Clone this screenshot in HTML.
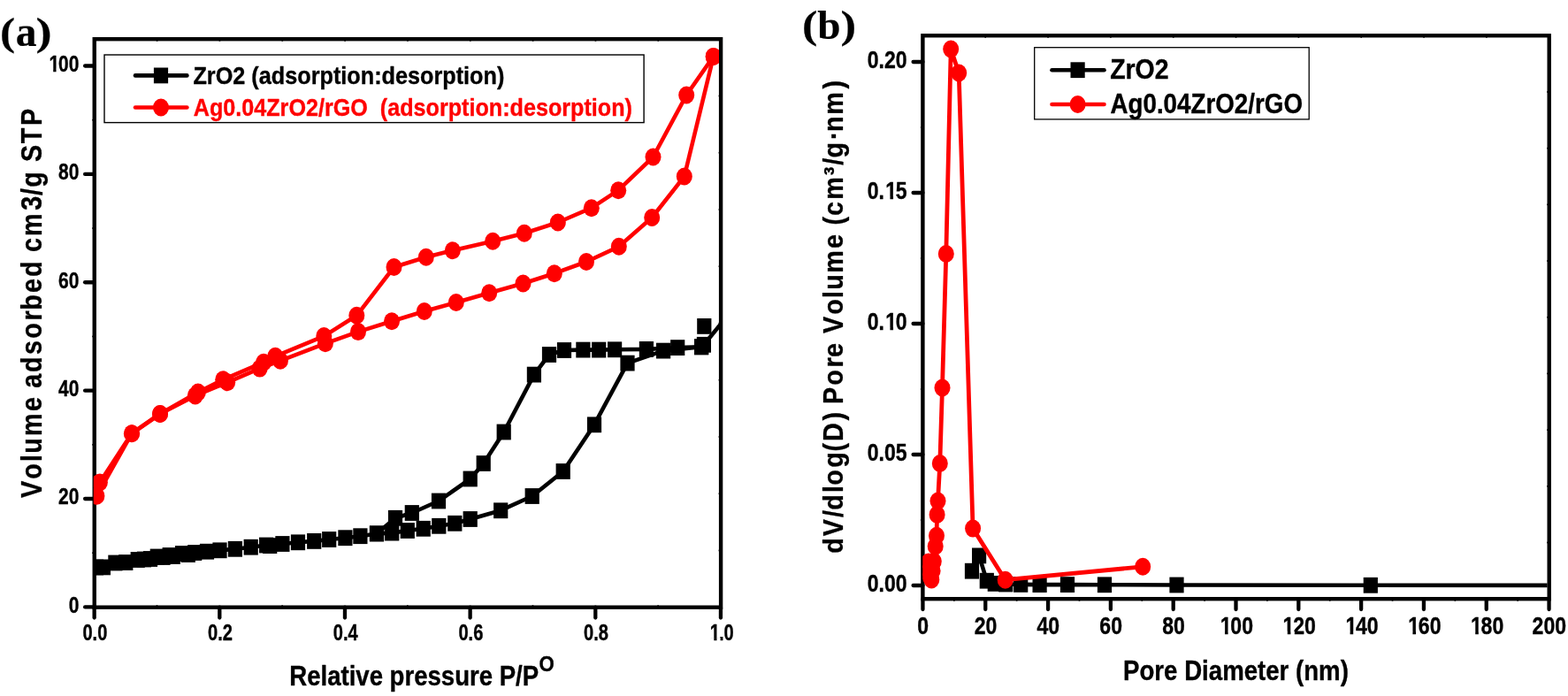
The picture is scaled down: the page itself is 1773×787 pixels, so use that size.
<!DOCTYPE html>
<html lang="en"><head><meta charset="utf-8"><title>N2 adsorption-desorption isotherms and pore size distribution</title>
<style>html,body{margin:0;padding:0;background:#fff;}body{width:1773px;height:787px;overflow:hidden;}svg{display:block;}</style>
</head><body>
<svg width="1773" height="787" viewBox="0 0 1773 787" role="img" aria-label="N2 adsorption-desorption isotherms (a) and pore size distribution (b)">
<rect x="0" y="0" width="1773" height="787" fill="#ffffff"/>
<g id="panel-a">
<rect x="106.75" y="44.2" width="708.35" height="642.5" fill="none" stroke="#000000" stroke-width="4.4" stroke-linejoin="miter"/>
<line x1="96.1" y1="686.40" x2="106.75" y2="686.40" stroke="#000000" stroke-width="4.3" stroke-linecap="round"/>
<text transform="translate(77.72 692.70) scale(0.2100 0.2520)" x="0.0" y="0" font-family="'Liberation Sans', sans-serif" font-weight="bold" font-size="100" fill="#000000" stroke="#000000" stroke-width="1.52" stroke-linejoin="round">0</text>
<line x1="96.1" y1="564.02" x2="106.75" y2="564.02" stroke="#000000" stroke-width="4.3" stroke-linecap="round"/>
<text transform="translate(66.04 570.32) scale(0.2100 0.2520)" x="0.0 55.6" y="0" font-family="'Liberation Sans', sans-serif" font-weight="bold" font-size="100" fill="#000000" stroke="#000000" stroke-width="1.52" stroke-linejoin="round">20</text>
<line x1="96.1" y1="441.64" x2="106.75" y2="441.64" stroke="#000000" stroke-width="4.3" stroke-linecap="round"/>
<text transform="translate(66.04 447.94) scale(0.2100 0.2520)" x="0.0 55.6" y="0" font-family="'Liberation Sans', sans-serif" font-weight="bold" font-size="100" fill="#000000" stroke="#000000" stroke-width="1.52" stroke-linejoin="round">40</text>
<line x1="96.1" y1="319.26" x2="106.75" y2="319.26" stroke="#000000" stroke-width="4.3" stroke-linecap="round"/>
<text transform="translate(66.04 325.56) scale(0.2100 0.2520)" x="0.0 55.6" y="0" font-family="'Liberation Sans', sans-serif" font-weight="bold" font-size="100" fill="#000000" stroke="#000000" stroke-width="1.52" stroke-linejoin="round">60</text>
<line x1="96.1" y1="196.88" x2="106.75" y2="196.88" stroke="#000000" stroke-width="4.3" stroke-linecap="round"/>
<text transform="translate(66.04 203.18) scale(0.2100 0.2520)" x="0.0 55.6" y="0" font-family="'Liberation Sans', sans-serif" font-weight="bold" font-size="100" fill="#000000" stroke="#000000" stroke-width="1.52" stroke-linejoin="round">80</text>
<line x1="96.1" y1="74.50" x2="106.75" y2="74.50" stroke="#000000" stroke-width="4.3" stroke-linecap="round"/>
<text transform="translate(54.36 80.80) scale(0.2100 0.2520)" x="5.5 55.6 111.2" y="0" font-family="'Liberation Sans', sans-serif" font-weight="bold" font-size="100" fill="#000000" stroke="#000000" stroke-width="1.52" stroke-linejoin="round">100</text>
<rect x="55.84" y="77.78" width="4.36" height="4.72" fill="#ffffff"/>
<rect x="63.52" y="77.78" width="4.09" height="4.72" fill="#ffffff"/>
<line x1="106.65" y1="686.7" x2="106.65" y2="698.6" stroke="#000000" stroke-width="4.3" stroke-linecap="round"/>
<text transform="translate(93.43 724.10) scale(0.2010 0.2520)" x="0.0 55.6 83.4" y="0" font-family="'Liberation Sans', sans-serif" font-weight="bold" font-size="100" fill="#000000" stroke="#000000" stroke-width="1.56" stroke-linejoin="round">0.0</text>
<line x1="248.31" y1="686.7" x2="248.31" y2="698.6" stroke="#000000" stroke-width="4.3" stroke-linecap="round"/>
<text transform="translate(235.09 724.10) scale(0.2010 0.2520)" x="0.0 55.6 83.4" y="0" font-family="'Liberation Sans', sans-serif" font-weight="bold" font-size="100" fill="#000000" stroke="#000000" stroke-width="1.56" stroke-linejoin="round">0.2</text>
<line x1="389.97" y1="686.7" x2="389.97" y2="698.6" stroke="#000000" stroke-width="4.3" stroke-linecap="round"/>
<text transform="translate(376.75 724.10) scale(0.2010 0.2520)" x="0.0 55.6 83.4" y="0" font-family="'Liberation Sans', sans-serif" font-weight="bold" font-size="100" fill="#000000" stroke="#000000" stroke-width="1.56" stroke-linejoin="round">0.4</text>
<line x1="531.63" y1="686.7" x2="531.63" y2="698.6" stroke="#000000" stroke-width="4.3" stroke-linecap="round"/>
<text transform="translate(518.41 724.10) scale(0.2010 0.2520)" x="0.0 55.6 83.4" y="0" font-family="'Liberation Sans', sans-serif" font-weight="bold" font-size="100" fill="#000000" stroke="#000000" stroke-width="1.56" stroke-linejoin="round">0.6</text>
<line x1="673.29" y1="686.7" x2="673.29" y2="698.6" stroke="#000000" stroke-width="4.3" stroke-linecap="round"/>
<text transform="translate(660.07 724.10) scale(0.2010 0.2520)" x="0.0 55.6 83.4" y="0" font-family="'Liberation Sans', sans-serif" font-weight="bold" font-size="100" fill="#000000" stroke="#000000" stroke-width="1.56" stroke-linejoin="round">0.8</text>
<line x1="814.95" y1="686.7" x2="814.95" y2="698.6" stroke="#000000" stroke-width="4.3" stroke-linecap="round"/>
<text transform="translate(801.73 724.10) scale(0.2010 0.2520)" x="5.5 55.6 83.4" y="0" font-family="'Liberation Sans', sans-serif" font-weight="bold" font-size="100" fill="#000000" stroke="#000000" stroke-width="1.56" stroke-linejoin="round">1.0</text>
<rect x="803.10" y="721.08" width="4.21" height="4.72" fill="#ffffff"/>
<rect x="810.50" y="721.08" width="3.95" height="4.72" fill="#ffffff"/>
<line x1="177.59" y1="44.2" x2="177.59" y2="46.70" stroke="#000000" stroke-width="1.6"/>
<line x1="815.1" y1="108.45" x2="812.60" y2="108.45" stroke="#000000" stroke-width="1.6"/>
<line x1="248.42" y1="44.2" x2="248.42" y2="46.70" stroke="#000000" stroke-width="1.6"/>
<line x1="815.1" y1="172.70" x2="812.60" y2="172.70" stroke="#000000" stroke-width="1.6"/>
<line x1="319.25" y1="44.2" x2="319.25" y2="46.70" stroke="#000000" stroke-width="1.6"/>
<line x1="815.1" y1="236.95" x2="812.60" y2="236.95" stroke="#000000" stroke-width="1.6"/>
<line x1="390.09" y1="44.2" x2="390.09" y2="46.70" stroke="#000000" stroke-width="1.6"/>
<line x1="815.1" y1="301.20" x2="812.60" y2="301.20" stroke="#000000" stroke-width="1.6"/>
<line x1="460.93" y1="44.2" x2="460.93" y2="46.70" stroke="#000000" stroke-width="1.6"/>
<line x1="815.1" y1="365.45" x2="812.60" y2="365.45" stroke="#000000" stroke-width="1.6"/>
<line x1="531.76" y1="44.2" x2="531.76" y2="46.70" stroke="#000000" stroke-width="1.6"/>
<line x1="815.1" y1="429.70" x2="812.60" y2="429.70" stroke="#000000" stroke-width="1.6"/>
<line x1="602.60" y1="44.2" x2="602.60" y2="46.70" stroke="#000000" stroke-width="1.6"/>
<line x1="815.1" y1="493.95" x2="812.60" y2="493.95" stroke="#000000" stroke-width="1.6"/>
<line x1="673.43" y1="44.2" x2="673.43" y2="46.70" stroke="#000000" stroke-width="1.6"/>
<line x1="815.1" y1="558.20" x2="812.60" y2="558.20" stroke="#000000" stroke-width="1.6"/>
<line x1="744.27" y1="44.2" x2="744.27" y2="46.70" stroke="#000000" stroke-width="1.6"/>
<line x1="815.1" y1="622.45" x2="812.60" y2="622.45" stroke="#000000" stroke-width="1.6"/>
<line x1="177.48" y1="686.7" x2="177.48" y2="684.20" stroke="#000000" stroke-width="1.6"/>
<line x1="106.75" y1="625.21" x2="104.25" y2="625.21" stroke="#000000" stroke-width="1.6"/>
<line x1="319.14" y1="686.7" x2="319.14" y2="684.20" stroke="#000000" stroke-width="1.6"/>
<line x1="106.75" y1="502.83" x2="104.25" y2="502.83" stroke="#000000" stroke-width="1.6"/>
<line x1="460.80" y1="686.7" x2="460.80" y2="684.20" stroke="#000000" stroke-width="1.6"/>
<line x1="106.75" y1="380.45" x2="104.25" y2="380.45" stroke="#000000" stroke-width="1.6"/>
<line x1="602.46" y1="686.7" x2="602.46" y2="684.20" stroke="#000000" stroke-width="1.6"/>
<line x1="106.75" y1="258.07" x2="104.25" y2="258.07" stroke="#000000" stroke-width="1.6"/>
<line x1="744.12" y1="686.7" x2="744.12" y2="684.20" stroke="#000000" stroke-width="1.6"/>
<line x1="106.75" y1="135.69" x2="104.25" y2="135.69" stroke="#000000" stroke-width="1.6"/>
<clipPath id="clipA"><rect x="105.8" y="44.2" width="707.2" height="642.5"/></clipPath>
<g clip-path="url(#clipA)">
<polyline points="109.0,641.5 116.9,641.4 130.4,636.5 142.3,636.0 155.7,633.0 163.0,632.5 170.0,632.0 177.8,629.5 184.5,630.0 191.7,628.0 195.8,629.0 206.1,626.0 212.8,627.0 220.2,625.0 234.0,623.7 248.5,622.3 265.9,620.8 283.7,618.7 301.1,616.5 305.2,617.1 319.4,615.0 337.0,613.3 355.2,611.9 372.2,610.0 390.4,608.2 407.4,606.2 426.0,603.4 443.2,602.6 460.8,600.0 478.7,597.8 496.3,594.8 514.3,591.8 531.8,587.0 566.2,577.2 601.8,561.0 636.8,533.0 672.0,480.2 709.5,410.6 750.1,396.6 793.1,392.3 795.9,389.8 830.0,347.9" fill="none" stroke="#000000" stroke-width="4.6" stroke-linejoin="round" stroke-linecap="round"/>
<polyline points="793.1,392.3 766.2,393.1 730.9,394.9 695.1,395.3 677.2,395.6 659.4,395.6 638.0,396.0 621.0,401.0 603.9,423.6 569.8,488.5 546.8,524.0 531.8,541.5 496.0,566.5 465.8,580.0 447.0,585.8 426.0,603.4" fill="none" stroke="#000000" stroke-width="4.6" stroke-linejoin="round" stroke-linecap="round"/>
<rect x="100.9" y="632.6" width="16.2" height="17.8" fill="#000000"/>
<rect x="108.8" y="632.5" width="16.2" height="17.8" fill="#000000"/>
<rect x="122.3" y="627.6" width="16.2" height="17.8" fill="#000000"/>
<rect x="134.2" y="627.1" width="16.2" height="17.8" fill="#000000"/>
<rect x="147.6" y="624.1" width="16.2" height="17.8" fill="#000000"/>
<rect x="154.9" y="623.6" width="16.2" height="17.8" fill="#000000"/>
<rect x="161.9" y="623.1" width="16.2" height="17.8" fill="#000000"/>
<rect x="169.7" y="620.6" width="16.2" height="17.8" fill="#000000"/>
<rect x="176.4" y="621.1" width="16.2" height="17.8" fill="#000000"/>
<rect x="183.6" y="619.1" width="16.2" height="17.8" fill="#000000"/>
<rect x="187.7" y="620.1" width="16.2" height="17.8" fill="#000000"/>
<rect x="198.0" y="617.1" width="16.2" height="17.8" fill="#000000"/>
<rect x="204.7" y="618.1" width="16.2" height="17.8" fill="#000000"/>
<rect x="212.1" y="616.1" width="16.2" height="17.8" fill="#000000"/>
<rect x="225.9" y="614.8" width="16.2" height="17.8" fill="#000000"/>
<rect x="240.4" y="613.4" width="16.2" height="17.8" fill="#000000"/>
<rect x="257.8" y="611.9" width="16.2" height="17.8" fill="#000000"/>
<rect x="275.6" y="609.8" width="16.2" height="17.8" fill="#000000"/>
<rect x="293.0" y="607.6" width="16.2" height="17.8" fill="#000000"/>
<rect x="297.1" y="608.2" width="16.2" height="17.8" fill="#000000"/>
<rect x="311.3" y="606.1" width="16.2" height="17.8" fill="#000000"/>
<rect x="328.9" y="604.4" width="16.2" height="17.8" fill="#000000"/>
<rect x="347.1" y="603.0" width="16.2" height="17.8" fill="#000000"/>
<rect x="364.1" y="601.1" width="16.2" height="17.8" fill="#000000"/>
<rect x="382.3" y="599.3" width="16.2" height="17.8" fill="#000000"/>
<rect x="399.3" y="597.3" width="16.2" height="17.8" fill="#000000"/>
<rect x="417.9" y="594.5" width="16.2" height="17.8" fill="#000000"/>
<rect x="435.1" y="593.7" width="16.2" height="17.8" fill="#000000"/>
<rect x="452.7" y="591.1" width="16.2" height="17.8" fill="#000000"/>
<rect x="470.6" y="588.9" width="16.2" height="17.8" fill="#000000"/>
<rect x="488.2" y="585.9" width="16.2" height="17.8" fill="#000000"/>
<rect x="506.2" y="582.9" width="16.2" height="17.8" fill="#000000"/>
<rect x="523.6" y="578.1" width="16.2" height="17.8" fill="#000000"/>
<rect x="558.1" y="568.4" width="16.2" height="17.8" fill="#000000"/>
<rect x="593.6" y="552.1" width="16.2" height="17.8" fill="#000000"/>
<rect x="628.6" y="524.1" width="16.2" height="17.8" fill="#000000"/>
<rect x="663.9" y="471.4" width="16.2" height="17.8" fill="#000000"/>
<rect x="701.4" y="401.7" width="16.2" height="17.8" fill="#000000"/>
<rect x="742.0" y="387.7" width="16.2" height="17.8" fill="#000000"/>
<rect x="785.0" y="383.4" width="16.2" height="17.8" fill="#000000"/>
<rect x="787.8" y="380.9" width="16.2" height="17.8" fill="#000000"/>
<rect x="785.0" y="383.4" width="16.2" height="17.8" fill="#000000"/>
<rect x="758.1" y="384.2" width="16.2" height="17.8" fill="#000000"/>
<rect x="722.8" y="386.0" width="16.2" height="17.8" fill="#000000"/>
<rect x="687.0" y="386.4" width="16.2" height="17.8" fill="#000000"/>
<rect x="669.1" y="386.7" width="16.2" height="17.8" fill="#000000"/>
<rect x="651.3" y="386.7" width="16.2" height="17.8" fill="#000000"/>
<rect x="629.9" y="387.1" width="16.2" height="17.8" fill="#000000"/>
<rect x="612.9" y="392.1" width="16.2" height="17.8" fill="#000000"/>
<rect x="595.8" y="414.7" width="16.2" height="17.8" fill="#000000"/>
<rect x="561.6" y="479.6" width="16.2" height="17.8" fill="#000000"/>
<rect x="538.6" y="515.1" width="16.2" height="17.8" fill="#000000"/>
<rect x="523.6" y="532.6" width="16.2" height="17.8" fill="#000000"/>
<rect x="487.9" y="557.6" width="16.2" height="17.8" fill="#000000"/>
<rect x="457.7" y="571.1" width="16.2" height="17.8" fill="#000000"/>
<rect x="438.9" y="576.9" width="16.2" height="17.8" fill="#000000"/>
<rect x="417.9" y="594.5" width="16.2" height="17.8" fill="#000000"/>
<rect x="788.2" y="360.0" width="16.2" height="17.8" fill="#000000"/>
<polyline points="109.4,560.7 149.0,490.2 181.0,468.0 220.8,447.4 257.2,432.3 293.7,416.6 317.0,407.8 367.9,388.3 405.0,375.1 443.0,363.2 479.8,352.0 515.8,342.0 553.2,331.2 591.5,320.5 626.8,309.2 663.0,296.0 699.8,278.8 737.2,246.0 773.8,199.5 806.7,63.9" fill="none" stroke="#ff0000" stroke-width="4.6" stroke-linejoin="round" stroke-linecap="round"/>
<polyline points="806.7,63.9 776.2,107.5 738.5,177.5 699.2,215.2 668.8,235.2 630.8,251.5 592.8,263.8 557.2,272.8 511.8,283.2 481.8,290.8 445.5,302.0 403.3,356.8 366.3,380.1 311.3,402.8 298.1,409.7 252.2,429.2 223.9,443.6 181.0,468.0 149.0,490.2 112.9,545.4" fill="none" stroke="#ff0000" stroke-width="4.6" stroke-linejoin="round" stroke-linecap="round"/>
<ellipse cx="109.4" cy="560.7" rx="9.0" ry="10.0" fill="#ff0000"/>
<ellipse cx="149.0" cy="490.2" rx="9.0" ry="10.0" fill="#ff0000"/>
<ellipse cx="181.0" cy="468.0" rx="9.0" ry="10.0" fill="#ff0000"/>
<ellipse cx="220.8" cy="447.4" rx="9.0" ry="10.0" fill="#ff0000"/>
<ellipse cx="257.2" cy="432.3" rx="9.0" ry="10.0" fill="#ff0000"/>
<ellipse cx="293.7" cy="416.6" rx="9.0" ry="10.0" fill="#ff0000"/>
<ellipse cx="317.0" cy="407.8" rx="9.0" ry="10.0" fill="#ff0000"/>
<ellipse cx="367.9" cy="388.3" rx="9.0" ry="10.0" fill="#ff0000"/>
<ellipse cx="405.0" cy="375.1" rx="9.0" ry="10.0" fill="#ff0000"/>
<ellipse cx="443.0" cy="363.2" rx="9.0" ry="10.0" fill="#ff0000"/>
<ellipse cx="479.8" cy="352.0" rx="9.0" ry="10.0" fill="#ff0000"/>
<ellipse cx="515.8" cy="342.0" rx="9.0" ry="10.0" fill="#ff0000"/>
<ellipse cx="553.2" cy="331.2" rx="9.0" ry="10.0" fill="#ff0000"/>
<ellipse cx="591.5" cy="320.5" rx="9.0" ry="10.0" fill="#ff0000"/>
<ellipse cx="626.8" cy="309.2" rx="9.0" ry="10.0" fill="#ff0000"/>
<ellipse cx="663.0" cy="296.0" rx="9.0" ry="10.0" fill="#ff0000"/>
<ellipse cx="699.8" cy="278.8" rx="9.0" ry="10.0" fill="#ff0000"/>
<ellipse cx="737.2" cy="246.0" rx="9.0" ry="10.0" fill="#ff0000"/>
<ellipse cx="773.8" cy="199.5" rx="9.0" ry="10.0" fill="#ff0000"/>
<ellipse cx="806.7" cy="63.9" rx="9.0" ry="10.0" fill="#ff0000"/>
<ellipse cx="806.7" cy="63.9" rx="9.0" ry="10.0" fill="#ff0000"/>
<ellipse cx="776.2" cy="107.5" rx="9.0" ry="10.0" fill="#ff0000"/>
<ellipse cx="738.5" cy="177.5" rx="9.0" ry="10.0" fill="#ff0000"/>
<ellipse cx="699.2" cy="215.2" rx="9.0" ry="10.0" fill="#ff0000"/>
<ellipse cx="668.8" cy="235.2" rx="9.0" ry="10.0" fill="#ff0000"/>
<ellipse cx="630.8" cy="251.5" rx="9.0" ry="10.0" fill="#ff0000"/>
<ellipse cx="592.8" cy="263.8" rx="9.0" ry="10.0" fill="#ff0000"/>
<ellipse cx="557.2" cy="272.8" rx="9.0" ry="10.0" fill="#ff0000"/>
<ellipse cx="511.8" cy="283.2" rx="9.0" ry="10.0" fill="#ff0000"/>
<ellipse cx="481.8" cy="290.8" rx="9.0" ry="10.0" fill="#ff0000"/>
<ellipse cx="445.5" cy="302.0" rx="9.0" ry="10.0" fill="#ff0000"/>
<ellipse cx="403.3" cy="356.8" rx="9.0" ry="10.0" fill="#ff0000"/>
<ellipse cx="366.3" cy="380.1" rx="9.0" ry="10.0" fill="#ff0000"/>
<ellipse cx="311.3" cy="402.8" rx="9.0" ry="10.0" fill="#ff0000"/>
<ellipse cx="298.1" cy="409.7" rx="9.0" ry="10.0" fill="#ff0000"/>
<ellipse cx="252.2" cy="429.2" rx="9.0" ry="10.0" fill="#ff0000"/>
<ellipse cx="223.9" cy="443.6" rx="9.0" ry="10.0" fill="#ff0000"/>
<ellipse cx="181.0" cy="468.0" rx="9.0" ry="10.0" fill="#ff0000"/>
<ellipse cx="149.0" cy="490.2" rx="9.0" ry="10.0" fill="#ff0000"/>
<ellipse cx="112.9" cy="545.4" rx="9.0" ry="10.0" fill="#ff0000"/>
</g>
<rect x="118" y="62" width="610.1" height="76.6" fill="#ffffff" stroke="#000000" stroke-width="1.4"/>
<line x1="153" y1="85.4" x2="211.4" y2="85.4" stroke="#000000" stroke-width="4.6" stroke-linecap="round"/>
<rect x="173.9" y="76.5" width="16.2" height="17.8" fill="#000000"/>
<line x1="153" y1="121.5" x2="211.4" y2="121.5" stroke="#ff0000" stroke-width="4.6" stroke-linecap="round"/>
<ellipse cx="182.0" cy="121.5" rx="9.0" ry="10.0" fill="#ff0000"/>
<text transform="translate(218.44 95.10) scale(0.2525 0.2730)" font-family="'Liberation Sans', sans-serif" font-weight="bold" font-size="100" fill="#000000" stroke="#000000" stroke-width="1.33" stroke-linejoin="round" text-anchor="start" letter-spacing="0.00" xml:space="preserve">ZrO2 (adsorption:desorption)</text>
<text transform="translate(218.75 130.90) scale(0.2516 0.2730)" font-family="'Liberation Sans', sans-serif" font-weight="bold" font-size="100" fill="#ff0000" stroke="#ff0000" stroke-width="1.34" stroke-linejoin="round" text-anchor="start" letter-spacing="0.00" xml:space="preserve">Ag0.04ZrO2/rGO  (adsorption:desorption)</text>
<text transform="translate(327.27 774.80) scale(0.2757 0.3210)" font-family="'Liberation Sans', sans-serif" font-weight="bold" font-size="100" fill="#000000" stroke="#000000" stroke-width="1.18" stroke-linejoin="round" xml:space="preserve">Relative pressure P/P<tspan x="1023.7" y="-48.3" font-size="74.8" textLength="62.6" lengthAdjust="spacingAndGlyphs">O</tspan></text>
<text transform="translate(46.80 563.50) rotate(-90) scale(0.2880 0.3330)" x="1.4 75.3 144.1 176.4 245.1 341.7 397.2 433.3 495.1 563.9 627.4 698.3 738.9 807.3 869.8 930.9 967.4 1029.9 1130.9 1189.2 1221.2 1282.3 1321.2 1393.4 1463.5" y="0" font-family="'Liberation Sans', sans-serif" font-weight="bold" font-size="100" fill="#000000" stroke="#000000" stroke-width="0.97" stroke-linejoin="round" xml:space="preserve">Volume adsorbed cm3/g STP</text>
<text transform="scale(0.45)" font-family="'Liberation Serif', serif" font-weight="bold" font-size="100" fill="#000000" stroke="#000000" stroke-width="0.44"><tspan x="0.10" y="113.56" font-size="100.78" textLength="38.04" lengthAdjust="spacingAndGlyphs">(</tspan><tspan x="39.28" y="114.67" font-size="109.04" textLength="52.78" lengthAdjust="spacingAndGlyphs">a</tspan><tspan x="90.03" y="113.56" font-size="100.78" textLength="40.33" lengthAdjust="spacingAndGlyphs">)</tspan></text>
</g>
<g id="panel-b">
<rect x="1043.4" y="40.25" width="708.3" height="636.95" fill="none" stroke="#000000" stroke-width="4.4" stroke-linejoin="miter"/>
<line x1="1032.6" y1="662.00" x2="1043.4" y2="662.00" stroke="#000000" stroke-width="4.3" stroke-linecap="round"/>
<text transform="translate(980.74 669.30) scale(0.2310 0.2775)" x="0.0 55.6 83.4 139.0" y="0" font-family="'Liberation Sans', sans-serif" font-weight="bold" font-size="100" fill="#000000" stroke="#000000" stroke-width="1.38" stroke-linejoin="round">0.00</text>
<line x1="1032.6" y1="514.00" x2="1043.4" y2="514.00" stroke="#000000" stroke-width="4.3" stroke-linecap="round"/>
<text transform="translate(980.74 521.30) scale(0.2310 0.2775)" x="0.0 55.6 83.4 139.0" y="0" font-family="'Liberation Sans', sans-serif" font-weight="bold" font-size="100" fill="#000000" stroke="#000000" stroke-width="1.38" stroke-linejoin="round">0.05</text>
<line x1="1032.6" y1="366.00" x2="1043.4" y2="366.00" stroke="#000000" stroke-width="4.3" stroke-linecap="round"/>
<text transform="translate(980.74 373.30) scale(0.2310 0.2775)" x="0.0 55.6 88.9 139.0" y="0" font-family="'Liberation Sans', sans-serif" font-weight="bold" font-size="100" fill="#000000" stroke="#000000" stroke-width="1.38" stroke-linejoin="round">0.10</text>
<rect x="1001.73" y="370.02" width="4.72" height="4.98" fill="#ffffff"/>
<rect x="1010.05" y="370.02" width="4.42" height="4.98" fill="#ffffff"/>
<line x1="1032.6" y1="218.00" x2="1043.4" y2="218.00" stroke="#000000" stroke-width="4.3" stroke-linecap="round"/>
<text transform="translate(980.74 225.30) scale(0.2310 0.2775)" x="0.0 55.6 88.9 139.0" y="0" font-family="'Liberation Sans', sans-serif" font-weight="bold" font-size="100" fill="#000000" stroke="#000000" stroke-width="1.38" stroke-linejoin="round">0.15</text>
<rect x="1001.73" y="222.02" width="4.72" height="4.98" fill="#ffffff"/>
<rect x="1010.05" y="222.02" width="4.42" height="4.98" fill="#ffffff"/>
<line x1="1032.6" y1="70.00" x2="1043.4" y2="70.00" stroke="#000000" stroke-width="4.3" stroke-linecap="round"/>
<text transform="translate(980.74 77.30) scale(0.2310 0.2775)" x="0.0 55.6 83.4 139.0" y="0" font-family="'Liberation Sans', sans-serif" font-weight="bold" font-size="100" fill="#000000" stroke="#000000" stroke-width="1.38" stroke-linejoin="round">0.20</text>
<line x1="1043.45" y1="677.2" x2="1043.45" y2="689.1" stroke="#000000" stroke-width="4.3" stroke-linecap="round"/>
<text transform="translate(1037.33 717.10) scale(0.2310 0.2775)" x="0.0" y="0" font-family="'Liberation Sans', sans-serif" font-weight="bold" font-size="100" fill="#000000" stroke="#000000" stroke-width="1.38" stroke-linejoin="round">0</text>
<line x1="1114.26" y1="677.2" x2="1114.26" y2="689.1" stroke="#000000" stroke-width="4.3" stroke-linecap="round"/>
<text transform="translate(1101.71 717.10) scale(0.2310 0.2775)" x="0.0 55.6" y="0" font-family="'Liberation Sans', sans-serif" font-weight="bold" font-size="100" fill="#000000" stroke="#000000" stroke-width="1.38" stroke-linejoin="round">20</text>
<line x1="1185.07" y1="677.2" x2="1185.07" y2="689.1" stroke="#000000" stroke-width="4.3" stroke-linecap="round"/>
<text transform="translate(1172.52 717.10) scale(0.2310 0.2775)" x="0.0 55.6" y="0" font-family="'Liberation Sans', sans-serif" font-weight="bold" font-size="100" fill="#000000" stroke="#000000" stroke-width="1.38" stroke-linejoin="round">40</text>
<line x1="1255.88" y1="677.2" x2="1255.88" y2="689.1" stroke="#000000" stroke-width="4.3" stroke-linecap="round"/>
<text transform="translate(1243.33 717.10) scale(0.2310 0.2775)" x="0.0 55.6" y="0" font-family="'Liberation Sans', sans-serif" font-weight="bold" font-size="100" fill="#000000" stroke="#000000" stroke-width="1.38" stroke-linejoin="round">60</text>
<line x1="1326.69" y1="677.2" x2="1326.69" y2="689.1" stroke="#000000" stroke-width="4.3" stroke-linecap="round"/>
<text transform="translate(1314.14 717.10) scale(0.2310 0.2775)" x="0.0 55.6" y="0" font-family="'Liberation Sans', sans-serif" font-weight="bold" font-size="100" fill="#000000" stroke="#000000" stroke-width="1.38" stroke-linejoin="round">80</text>
<line x1="1397.50" y1="677.2" x2="1397.50" y2="689.1" stroke="#000000" stroke-width="4.3" stroke-linecap="round"/>
<text transform="translate(1378.53 717.10) scale(0.2310 0.2775)" x="5.5 55.6 111.2" y="0" font-family="'Liberation Sans', sans-serif" font-weight="bold" font-size="100" fill="#000000" stroke="#000000" stroke-width="1.38" stroke-linejoin="round">100</text>
<rect x="1380.25" y="713.82" width="4.72" height="4.98" fill="#ffffff"/>
<rect x="1388.58" y="713.82" width="4.42" height="4.98" fill="#ffffff"/>
<line x1="1468.31" y1="677.2" x2="1468.31" y2="689.1" stroke="#000000" stroke-width="4.3" stroke-linecap="round"/>
<text transform="translate(1449.34 717.10) scale(0.2310 0.2775)" x="5.5 55.6 111.2" y="0" font-family="'Liberation Sans', sans-serif" font-weight="bold" font-size="100" fill="#000000" stroke="#000000" stroke-width="1.38" stroke-linejoin="round">120</text>
<rect x="1451.06" y="713.82" width="4.72" height="4.98" fill="#ffffff"/>
<rect x="1459.39" y="713.82" width="4.42" height="4.98" fill="#ffffff"/>
<line x1="1539.12" y1="677.2" x2="1539.12" y2="689.1" stroke="#000000" stroke-width="4.3" stroke-linecap="round"/>
<text transform="translate(1520.15 717.10) scale(0.2310 0.2775)" x="5.5 55.6 111.2" y="0" font-family="'Liberation Sans', sans-serif" font-weight="bold" font-size="100" fill="#000000" stroke="#000000" stroke-width="1.38" stroke-linejoin="round">140</text>
<rect x="1521.87" y="713.82" width="4.72" height="4.98" fill="#ffffff"/>
<rect x="1530.20" y="713.82" width="4.42" height="4.98" fill="#ffffff"/>
<line x1="1609.93" y1="677.2" x2="1609.93" y2="689.1" stroke="#000000" stroke-width="4.3" stroke-linecap="round"/>
<text transform="translate(1590.96 717.10) scale(0.2310 0.2775)" x="5.5 55.6 111.2" y="0" font-family="'Liberation Sans', sans-serif" font-weight="bold" font-size="100" fill="#000000" stroke="#000000" stroke-width="1.38" stroke-linejoin="round">160</text>
<rect x="1592.68" y="713.82" width="4.72" height="4.98" fill="#ffffff"/>
<rect x="1601.01" y="713.82" width="4.42" height="4.98" fill="#ffffff"/>
<line x1="1680.74" y1="677.2" x2="1680.74" y2="689.1" stroke="#000000" stroke-width="4.3" stroke-linecap="round"/>
<text transform="translate(1661.77 717.10) scale(0.2310 0.2775)" x="5.5 55.6 111.2" y="0" font-family="'Liberation Sans', sans-serif" font-weight="bold" font-size="100" fill="#000000" stroke="#000000" stroke-width="1.38" stroke-linejoin="round">180</text>
<rect x="1663.49" y="713.82" width="4.72" height="4.98" fill="#ffffff"/>
<rect x="1671.82" y="713.82" width="4.42" height="4.98" fill="#ffffff"/>
<line x1="1751.55" y1="677.2" x2="1751.55" y2="689.1" stroke="#000000" stroke-width="4.3" stroke-linecap="round"/>
<text transform="translate(1732.58 717.10) scale(0.2310 0.2775)" x="0.0 55.6 111.2" y="0" font-family="'Liberation Sans', sans-serif" font-weight="bold" font-size="100" fill="#000000" stroke="#000000" stroke-width="1.38" stroke-linejoin="round">200</text>
<line x1="1114.23" y1="40.25" x2="1114.23" y2="42.75" stroke="#000000" stroke-width="1.6"/>
<line x1="1751.7" y1="103.95" x2="1749.20" y2="103.95" stroke="#000000" stroke-width="1.6"/>
<line x1="1185.06" y1="40.25" x2="1185.06" y2="42.75" stroke="#000000" stroke-width="1.6"/>
<line x1="1751.7" y1="167.64" x2="1749.20" y2="167.64" stroke="#000000" stroke-width="1.6"/>
<line x1="1255.89" y1="40.25" x2="1255.89" y2="42.75" stroke="#000000" stroke-width="1.6"/>
<line x1="1751.7" y1="231.34" x2="1749.20" y2="231.34" stroke="#000000" stroke-width="1.6"/>
<line x1="1326.72" y1="40.25" x2="1326.72" y2="42.75" stroke="#000000" stroke-width="1.6"/>
<line x1="1751.7" y1="295.03" x2="1749.20" y2="295.03" stroke="#000000" stroke-width="1.6"/>
<line x1="1397.55" y1="40.25" x2="1397.55" y2="42.75" stroke="#000000" stroke-width="1.6"/>
<line x1="1751.7" y1="358.73" x2="1749.20" y2="358.73" stroke="#000000" stroke-width="1.6"/>
<line x1="1468.38" y1="40.25" x2="1468.38" y2="42.75" stroke="#000000" stroke-width="1.6"/>
<line x1="1751.7" y1="422.42" x2="1749.20" y2="422.42" stroke="#000000" stroke-width="1.6"/>
<line x1="1539.21" y1="40.25" x2="1539.21" y2="42.75" stroke="#000000" stroke-width="1.6"/>
<line x1="1751.7" y1="486.12" x2="1749.20" y2="486.12" stroke="#000000" stroke-width="1.6"/>
<line x1="1610.04" y1="40.25" x2="1610.04" y2="42.75" stroke="#000000" stroke-width="1.6"/>
<line x1="1751.7" y1="549.81" x2="1749.20" y2="549.81" stroke="#000000" stroke-width="1.6"/>
<line x1="1680.87" y1="40.25" x2="1680.87" y2="42.75" stroke="#000000" stroke-width="1.6"/>
<line x1="1751.7" y1="613.50" x2="1749.20" y2="613.50" stroke="#000000" stroke-width="1.6"/>
<line x1="1078.86" y1="677.2" x2="1078.86" y2="679.70" stroke="#000000" stroke-width="1.6"/>
<line x1="1149.66" y1="677.2" x2="1149.66" y2="679.70" stroke="#000000" stroke-width="1.6"/>
<line x1="1220.48" y1="677.2" x2="1220.48" y2="679.70" stroke="#000000" stroke-width="1.6"/>
<line x1="1291.29" y1="677.2" x2="1291.29" y2="679.70" stroke="#000000" stroke-width="1.6"/>
<line x1="1362.10" y1="677.2" x2="1362.10" y2="679.70" stroke="#000000" stroke-width="1.6"/>
<line x1="1432.91" y1="677.2" x2="1432.91" y2="679.70" stroke="#000000" stroke-width="1.6"/>
<line x1="1503.72" y1="677.2" x2="1503.72" y2="679.70" stroke="#000000" stroke-width="1.6"/>
<line x1="1574.53" y1="677.2" x2="1574.53" y2="679.70" stroke="#000000" stroke-width="1.6"/>
<line x1="1645.34" y1="677.2" x2="1645.34" y2="679.70" stroke="#000000" stroke-width="1.6"/>
<line x1="1716.14" y1="677.2" x2="1716.14" y2="679.70" stroke="#000000" stroke-width="1.6"/>
<line x1="1043.4" y1="588.00" x2="1040.90" y2="588.00" stroke="#000000" stroke-width="1.6"/>
<line x1="1043.4" y1="440.00" x2="1040.90" y2="440.00" stroke="#000000" stroke-width="1.6"/>
<line x1="1043.4" y1="292.00" x2="1040.90" y2="292.00" stroke="#000000" stroke-width="1.6"/>
<line x1="1043.4" y1="144.00" x2="1040.90" y2="144.00" stroke="#000000" stroke-width="1.6"/>
<clipPath id="clipB"><rect x="1043.3" y="40.25" width="706.3" height="636.95"/></clipPath>
<g clip-path="url(#clipB)">
<polyline points="1099.0,645.7 1107.1,628.4 1115.8,656.7 1124.8,659.9 1137.2,660.5 1154.2,660.9 1175.6,661.1 1207.0,661.1 1249.0,661.2 1330.5,661.5 1549.8,661.8 1770.0,661.9" fill="none" stroke="#000000" stroke-width="4.6" stroke-linejoin="round" stroke-linecap="round"/>
<rect x="1090.9" y="636.8" width="16.2" height="17.8" fill="#000000"/>
<rect x="1099.0" y="619.5" width="16.2" height="17.8" fill="#000000"/>
<rect x="1107.7" y="647.8" width="16.2" height="17.8" fill="#000000"/>
<rect x="1116.7" y="651.0" width="16.2" height="17.8" fill="#000000"/>
<rect x="1129.1" y="651.6" width="16.2" height="17.8" fill="#000000"/>
<rect x="1146.1" y="652.0" width="16.2" height="17.8" fill="#000000"/>
<rect x="1167.5" y="652.2" width="16.2" height="17.8" fill="#000000"/>
<rect x="1198.9" y="652.2" width="16.2" height="17.8" fill="#000000"/>
<rect x="1240.9" y="652.4" width="16.2" height="17.8" fill="#000000"/>
<rect x="1322.4" y="652.6" width="16.2" height="17.8" fill="#000000"/>
<rect x="1541.7" y="652.9" width="16.2" height="17.8" fill="#000000"/>
<polyline points="1050.0,635.5 1050.8,645.0 1051.8,652.0 1053.3,655.5 1054.6,645.4 1055.8,634.7 1057.7,617.7 1059.0,605.8 1059.6,581.9 1060.5,566.5 1062.8,524.0 1065.5,438.5 1069.8,287.0 1075.2,55.5 1084.2,82.5 1100.1,597.6 1136.7,655.7 1292.2,640.8" fill="none" stroke="#ff0000" stroke-width="4.8" stroke-linejoin="round" stroke-linecap="round"/>
<ellipse cx="1050.0" cy="635.5" rx="9.0" ry="10.0" fill="#ff0000"/>
<ellipse cx="1050.8" cy="645.0" rx="9.0" ry="10.0" fill="#ff0000"/>
<ellipse cx="1051.8" cy="652.0" rx="9.0" ry="10.0" fill="#ff0000"/>
<ellipse cx="1053.3" cy="655.5" rx="9.0" ry="10.0" fill="#ff0000"/>
<ellipse cx="1054.6" cy="645.4" rx="9.0" ry="10.0" fill="#ff0000"/>
<ellipse cx="1055.8" cy="634.7" rx="9.0" ry="10.0" fill="#ff0000"/>
<ellipse cx="1057.7" cy="617.7" rx="9.0" ry="10.0" fill="#ff0000"/>
<ellipse cx="1059.0" cy="605.8" rx="9.0" ry="10.0" fill="#ff0000"/>
<ellipse cx="1059.6" cy="581.9" rx="9.0" ry="10.0" fill="#ff0000"/>
<ellipse cx="1060.5" cy="566.5" rx="9.0" ry="10.0" fill="#ff0000"/>
<ellipse cx="1062.8" cy="524.0" rx="9.0" ry="10.0" fill="#ff0000"/>
<ellipse cx="1065.5" cy="438.5" rx="9.0" ry="10.0" fill="#ff0000"/>
<ellipse cx="1069.8" cy="287.0" rx="9.0" ry="10.0" fill="#ff0000"/>
<ellipse cx="1075.2" cy="55.5" rx="9.0" ry="10.0" fill="#ff0000"/>
<ellipse cx="1084.2" cy="82.5" rx="9.0" ry="10.0" fill="#ff0000"/>
<ellipse cx="1100.1" cy="597.6" rx="9.0" ry="10.0" fill="#ff0000"/>
<ellipse cx="1136.7" cy="655.7" rx="9.0" ry="10.0" fill="#ff0000"/>
<ellipse cx="1292.2" cy="640.8" rx="9.0" ry="10.0" fill="#ff0000"/>
</g>
<rect x="1169.7" y="53.7" width="310.5" height="81.2" fill="#ffffff" stroke="#000000" stroke-width="1.3"/>
<line x1="1189.5" y1="79.2" x2="1248.5" y2="79.2" stroke="#000000" stroke-width="4.6" stroke-linecap="round"/>
<rect x="1210.5" y="70.3" width="16.2" height="17.8" fill="#000000"/>
<line x1="1189.5" y1="118.0" x2="1248.5" y2="118.0" stroke="#ff0000" stroke-width="4.6" stroke-linecap="round"/>
<ellipse cx="1218.6" cy="118.0" rx="9.0" ry="10.0" fill="#ff0000"/>
<text transform="translate(1255.15 88.90) scale(0.2845 0.3210)" font-family="'Liberation Sans', sans-serif" font-weight="bold" font-size="100" fill="#000000" stroke="#000000" stroke-width="1.16" stroke-linejoin="round" text-anchor="start" letter-spacing="0.00" xml:space="preserve">ZrO2</text>
<text transform="translate(1255.47 127.90) scale(0.2777 0.3210)" font-family="'Liberation Sans', sans-serif" font-weight="bold" font-size="100" fill="#000000" stroke="#000000" stroke-width="1.17" stroke-linejoin="round" text-anchor="start" letter-spacing="0.00" xml:space="preserve">Ag0.04ZrO2/rGO</text>
<text transform="translate(1270.07 768.65) scale(0.2763 0.3125)" font-family="'Liberation Sans', sans-serif" font-weight="bold" font-size="100" fill="#000000" stroke="#000000" stroke-width="1.19" stroke-linejoin="round" text-anchor="start" letter-spacing="0.00" xml:space="preserve">Pore Diameter (nm)</text>
<text transform="translate(953.00 625.40) rotate(-90) scale(0.2870 0.3100)" x="-1.4 66.9 141.1 169.3 238.7 266.9 336.9 400.0 440.1 522.3 555.7 586.8 661.0 731.4 771.8 827.5 865.2 939.7 1004.9 1037.3 1103.1 1200.0 1255.7 1292.7 1328.6 1392.3 1488.2 1528.2 1556.8 1628.6 1660.3 1726.8 1829.3" y="0" font-family="'Liberation Sans', sans-serif" font-weight="bold" font-size="100" fill="#000000" stroke="#000000" stroke-width="1.01" stroke-linejoin="round" xml:space="preserve">dV/dlog(D) Pore Volume (cm³/g·nm)</text>
<text transform="scale(0.45)" font-family="'Liberation Serif', serif" font-weight="bold" font-size="100" fill="#000000" stroke="#000000" stroke-width="0.44"><tspan x="2015.82" y="94.49" font-size="100.73" textLength="38.48" lengthAdjust="spacingAndGlyphs">(</tspan><tspan x="2054.06" y="97.33" font-size="102.58" textLength="58.32" lengthAdjust="spacingAndGlyphs">b</tspan><tspan x="2112.24" y="94.49" font-size="100.73" textLength="39.22" lengthAdjust="spacingAndGlyphs">)</tspan></text>
</g>
</svg>
</body></html>
